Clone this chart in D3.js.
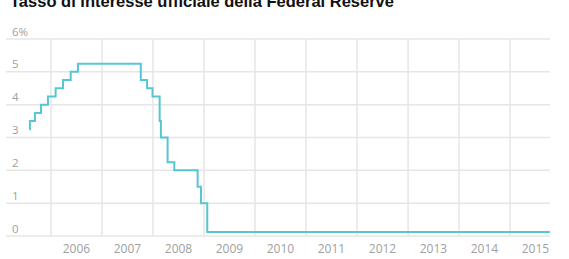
<!DOCTYPE html>
<html>
<head>
<meta charset="utf-8">
<script src="https://cdn.jsdelivr.net/npm/d3@7"></script>
<style>
  html, body { margin: 0; padding: 0; background: #fff; }
  svg { display: block; }
</style>
</head>
<body>
<svg width="569" height="259"></svg>
<script>
// Fed funds target rate (change dates and new level)
var rateDates = ["2005-07-29", "2005-08-03", "2005-09-08", "2005-10-21", "2005-12-10",
                 "2006-02-03", "2006-03-28", "2006-05-22", "2006-07-13",
                 "2007-10-06", "2007-11-20", "2007-12-29", "2008-02-18", "2008-02-27",
                 "2008-04-15", "2008-06-02", "2008-11-16", "2008-12-10", "2009-01-24",
                 "2015-10-13"];
var rateValues = [3.25, 3.5, 3.75, 4.0, 4.25,
                  4.5, 4.75, 5.0, 5.25,
                  4.75, 4.5, 4.25, 3.5, 3.0,
                  2.25, 2.0, 1.5, 1.0, 0.125,
                  0.125];
var years = [2006, 2007, 2008, 2009, 2010, 2011, 2012, 2013, 2014, 2015];
var yTicks = [0, 1, 2, 3, 4, 5, 6];
var title = "Tasso di interesse ufficiale della Federal Reserve";

var parseTime = d3.timeParse("%Y-%m-%d");
var data = rateDates.map(function(d, i) { return {day: parseTime(d), rate: rateValues[i]}; });

var svg = d3.select("svg");
var gridColor = "#e6e6e6";
var labelColor = "#a0a0a0";

var plot = {left: 6, right: 550, top: 39, bottom: 236};

var x = d3.scaleTime()
    .domain([new Date(2006, 0, 1), new Date(2015, 0, 1)])
    .range([51, 510]);
var y = d3.scaleLinear().domain([0, 6]).range([plot.bottom, plot.top]);

svg.append("text")
    .attr("x", 10)
    .attr("y", 6.5)
    .attr("font-family", "Liberation Sans, Arial, sans-serif")
    .attr("font-weight", "bold")
    .attr("font-size", 16.5)
    .attr("fill", "#111")
    .text(title);

// horizontal grid + y labels
var gy = svg.append("g");
gy.selectAll("line").data(yTicks).enter().append("line")
    .attr("x1", plot.left).attr("x2", plot.right)
    .attr("y1", function(d) { return y(d); })
    .attr("y2", function(d) { return y(d); })
    .attr("stroke", gridColor)
    .attr("stroke-width", 1.5);
gy.selectAll("text").data(yTicks).enter().append("text")
    .attr("x", 12)
    .attr("y", function(d) { return y(d) - 3.5; })
    .attr("font-family", "Open Sans, sans-serif")
    .attr("font-size", 11.5)
    .attr("fill", labelColor)
    .text(function(d) { return d === 6 ? "6%" : d; });

// vertical grid + year labels
var gx = svg.append("g");
gx.selectAll("line").data(years).enter().append("line")
    .attr("x1", function(d) { return x(new Date(d, 0, 1)); })
    .attr("x2", function(d) { return x(new Date(d, 0, 1)); })
    .attr("y1", plot.top).attr("y2", plot.bottom)
    .attr("stroke", gridColor)
    .attr("stroke-width", 1.5);
gx.selectAll("text").data(years).enter().append("text")
    .attr("x", function(d) { return x(new Date(d, 6, 2)); })
    .attr("y", 253)
    .attr("text-anchor", "middle")
    .attr("font-family", "Open Sans, sans-serif")
    .attr("font-size", 12)
    .attr("fill", labelColor)
    .text(function(d) { return d; });

var line = d3.line()
    .curve(d3.curveStepAfter)
    .x(function(d) { return x(d.day); })
    .y(function(d) { return y(d.rate); });

svg.append("path")
    .datum(data)
    .attr("fill", "none")
    .attr("stroke", "#55c6d2")
    .attr("stroke-width", 2)
    .attr("stroke-linejoin", "miter")
    .attr("d", line);
</script>
</body>
</html>
